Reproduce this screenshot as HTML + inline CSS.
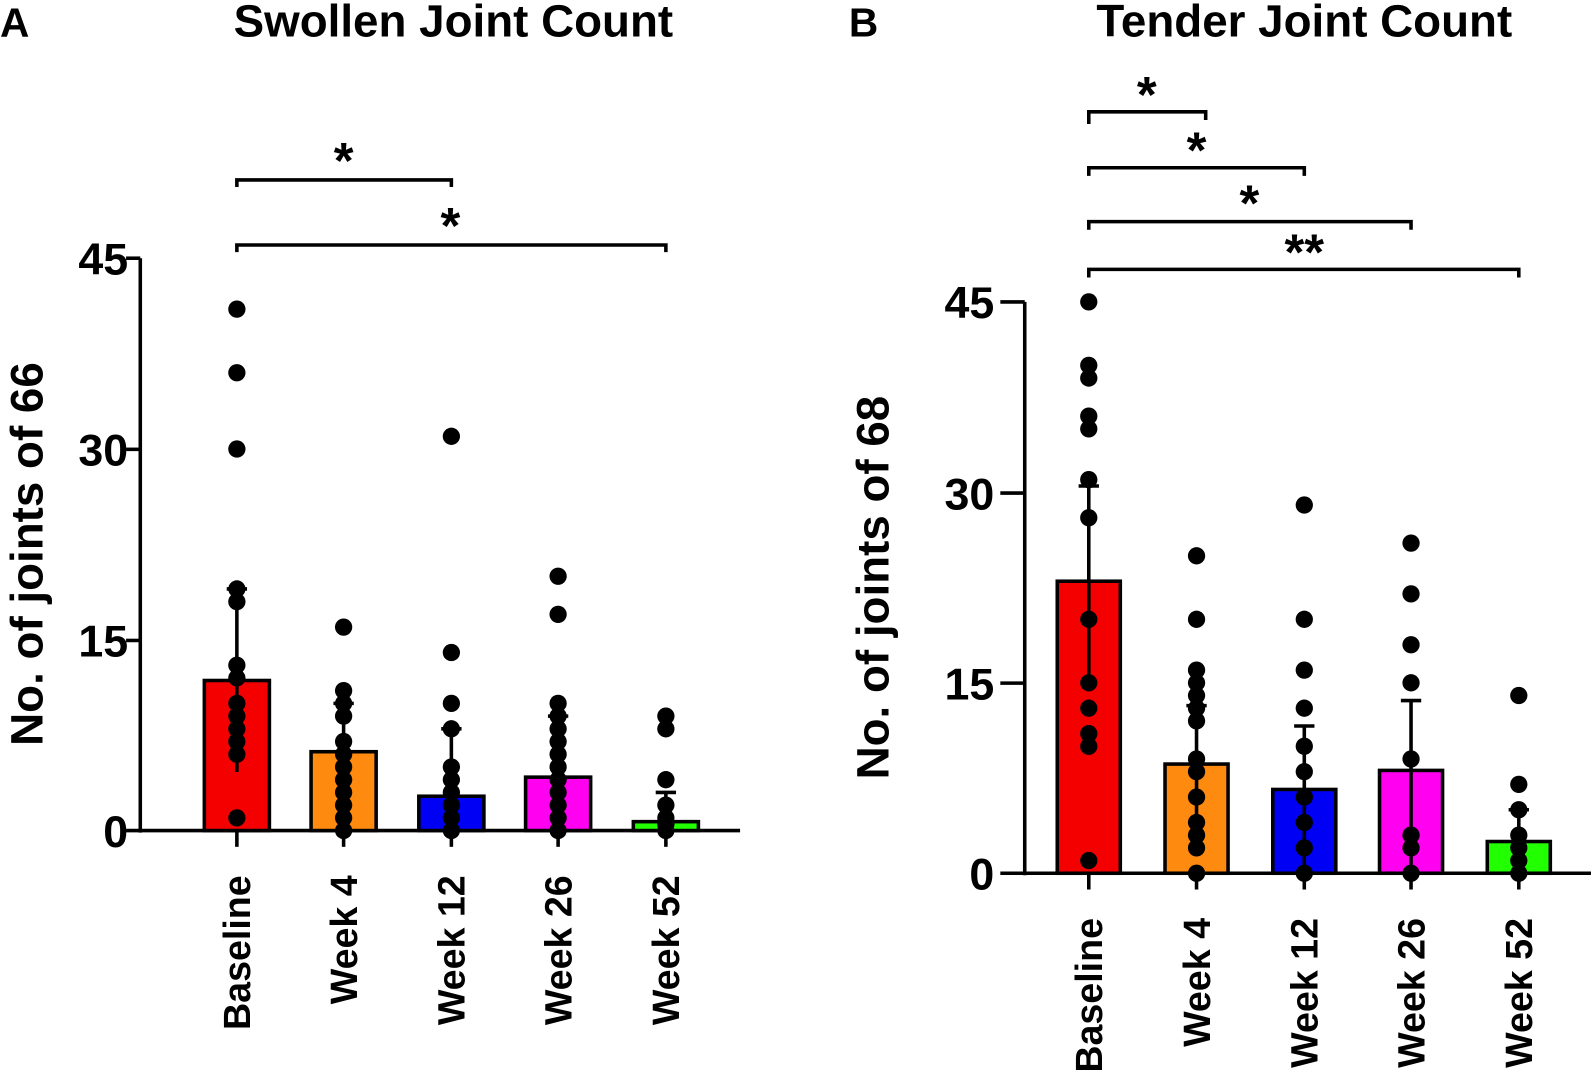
<!DOCTYPE html>
<html><head><meta charset="utf-8"><style>
html,body{margin:0;padding:0;background:#fff;}
svg text{font-family:"Liberation Sans",Arial,sans-serif;font-weight:bold;fill:#000;}
</style></head><body>
<svg id="s" width="1594" height="1070" viewBox="0 0 1594 1070" xmlns="http://www.w3.org/2000/svg">
<rect width="1594" height="1070" fill="#fff"/>
<g transform="scale(1.0166)">
<text x="0" y="36" font-size="40">A</text>
<text x="446" y="36" font-size="45" text-anchor="middle">Swollen Joint Count</text>
<text x="835" y="36" font-size="40">B</text>
<text x="1283" y="36" font-size="45" text-anchor="middle">Tender Joint Count</text>

<g stroke="#000" stroke-width="3.5" fill="none">
<line x1="138" y1="254" x2="138" y2="819"/>
<line x1="124" y1="817" x2="728" y2="817"/>
<line x1="124" y1="254" x2="138" y2="254"/>
<line x1="124" y1="442" x2="138" y2="442"/>
<line x1="124" y1="630" x2="138" y2="630"/>
<line x1="1008" y1="297" x2="1008" y2="861"/>
<line x1="984" y1="859" x2="1565" y2="859"/>
<line x1="984" y1="297" x2="1008" y2="297"/>
<line x1="984" y1="485" x2="1008" y2="485"/>
<line x1="984" y1="672" x2="1008" y2="672"/>
<polyline points="233,184 233,177 444,177 444,184"/>
<polyline points="233,248 233,241 655,241 655,248"/>
<polyline points="1071,122 1071,110 1186,110 1186,118"/>
<polyline points="1071,173 1071,165 1283,165 1283,173"/>
<polyline points="1071,226 1071,218 1388,218 1388,226"/>
<polyline points="1071,273 1071,265 1494,265 1494,273"/>
</g>
<g font-size="50" text-anchor="middle">
<text x="338" y="175">*</text>
<text x="443" y="239">*</text>
<text x="1128" y="110">*</text>
<text x="1177" y="165">*</text>
<text x="1229" y="217">*</text>
<text x="1283" y="265">**</text>
</g>
<g font-size="44" text-anchor="end">
<text x="126" y="270">45</text><text x="126" y="458">30</text><text x="126" y="646">15</text><text x="126" y="833">0</text>
<text x="978" y="313">45</text><text x="978" y="501">30</text><text x="978" y="688">15</text><text x="978" y="875">0</text>
</g>
<text font-size="45" text-anchor="middle" transform="translate(42,545) rotate(-90)">No. of joints of 66</text>
<text font-size="45" text-anchor="middle" transform="translate(874,578) rotate(-90)">No. of joints of 68</text>
<g id="dyn"></g>
</g>
</svg>
<script>
var g=document.getElementById('dyn'),NS='http://www.w3.org/2000/svg';
function el(t,a){var e=document.createElementNS(NS,t);for(var k in a)e.setAttribute(k,a[k]);g.appendChild(e);return e;}
function panel(y0,sc,xs,bars,cols,errs,dots,labels,w){
 for(var i=0;i<5;i++){
  var x=xs[i],top=y0-bars[i]*sc;
  el('rect',{x:x-w/2,y:top,width:w,height:y0-top,fill:cols[i],stroke:'#000','stroke-width':3.5});
  var et=y0-errs[i][1]*sc,eb=y0-errs[i][0]*sc;
  el('line',{x1:x,y1:et,x2:x,y2:eb,stroke:'#000','stroke-width':3.5});
  el('line',{x1:x-10,y1:et,x2:x+10,y2:et,stroke:'#000','stroke-width':3.5});
  el('line',{x1:x,y1:y0,x2:x,y2:y0+16,stroke:'#000','stroke-width':3.5});
  dots[i].forEach(function(v){el('circle',{cx:x,cy:y0-v*sc,r:8.5,fill:'#000'});});
  var t=el('text',{'font-size':37,'text-anchor':'end',transform:'translate('+(x+13)+','+(y0+44)+') rotate(-90)'});
  t.textContent=labels[i];
 }
}
var cols=['#f50000','#ff8a10','#0000f5','#ff00f0','#22ff00'];
var L=['Baseline','Week 4','Week 12','Week 26','Week 52'];
panel(817,12.51,[233,338,444,549,655],[11.8,6.2,2.7,4.2,0.7],cols,
 [[4.6,19],[0,10],[0,8],[0,9],[0,3]],
 [[41,36,30,19,18,13,12,10,9,8,7,6,1],[16,11,10,9,7,6,5,4,3,2,1,0],[31,14,10,8,5,4,3,2,1,0],[20,17,10,9,8,7,6,5,4,3,2,1,0],[9,8,4,2,1,0.5,0]],L,64);
panel(859,12.49,[1071,1177,1283,1388,1494],[23,8.6,6.6,8.1,2.5],cols,
 [[15.3,30.5],[4,13.2],[0,11.6],[0,13.6],[0,5]],
 [[45,40,39,36,35,31,28,20,15,13,11,10,1],[25,20,16,15,14,13,12,9,8,6,4,3,2,0],[29,20,16,13,10,8,6,4,2,0],[26,22,18,15,9,3,2,0],[14,7,5,3,2,1,0]],L,62);
</script>
</body></html>
